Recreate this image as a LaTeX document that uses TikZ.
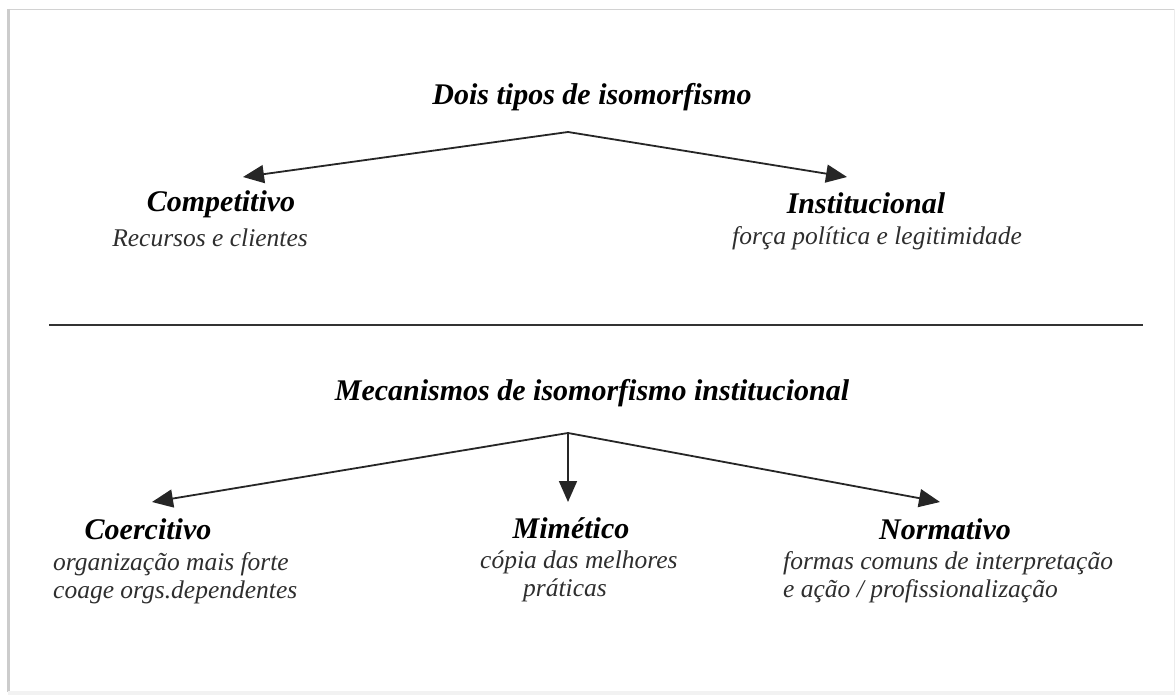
\documentclass[tikz,border=0pt]{standalone}
\usepackage{fontspec}
\setmainfont{Liberation Serif}
\usetikzlibrary{arrows.meta}
\definecolor{subgray}{HTML}{2E2E2E}
\tikzset{
  head/.style={font=\fontsize{30}{34}\selectfont\bfseries\itshape, text=black, inner sep=0pt},
  sub/.style={font=\fontsize{25.5}{28}\selectfont\itshape, text=subgray, inner sep=0pt},
  arr/.style={line width=1.8pt, draw=black!85, -{Triangle[length=21pt,width=18pt]}},
}
\begin{document}
\begin{tikzpicture}[x=1pt,y=-1pt]
\useasboundingbox (0,0) rectangle (1175,695);
\fill[white] (0,0) rectangle (1175,695);
% frame
\draw[gray!35, line width=1.2pt] (8,9.5) -- (1174,9.5);
\draw[gray!40, line width=3pt] (8.5,9) -- (8.5,692);
\fill[gray!10] (8,691) rectangle (1175,695);
\draw[gray!15, line width=1pt] (1174,9) -- (1174,692);

% top part
\node[head] (t1) at (592,97) {Dois tipos de isomorfismo};
\coordinate (a1) at (568,132);
\coordinate (tc) at (243,177);
\coordinate (ti) at (847,177);
\node[head] (comp) at (221,204) {Competitivo};
\node[sub] (compd) at (210,238) {Recursos e clientes};
\node[head] (inst) at (866,203) {Institucional};
\node[sub] (instd) at (877,238) {força política e legitimidade};
\draw[arr] (a1) -- (tc);
\draw[arr] (a1) -- (ti);

% divider
\coordinate (dl) at (49,325);
\coordinate (dr) at (1143,325);
\draw[line width=1.6pt, black!80] (dl) -- (dr);

% bottom part
\node[head] (t2) at (592,393) {Mecanismos de isomorfismo institucional};
\coordinate (a2) at (568,433);
\coordinate (tco) at (152,502);
\coordinate (tmi) at (568,502);
\coordinate (tno) at (940,502);
\draw[arr] (a2) -- (tco);
\draw[arr] (a2) -- (tmi);
\draw[arr] (a2) -- (tno);

\node[head] (coer) at (148,529) {Coercitivo};
\node[sub, anchor=north west, align=left] (coerd) at (53,552) {organização mais forte\\coage orgs.dependentes};
\node[head] (mim) at (571,528) {Mimético};
\node[sub, anchor=north west, align=left] (mimd) at (480,551) {cópia das melhores\\\hspace{43pt}práticas};
\node[head] (norm) at (945,529) {Normativo};
\node[sub, anchor=north west, align=left] (normd) at (783,551) {formas comuns de interpretação\\e ação / profissionalização};
\end{tikzpicture}
\end{document}
